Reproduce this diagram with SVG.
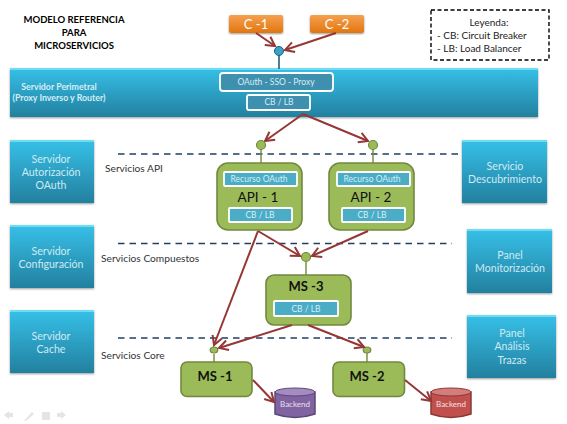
<svg xmlns="http://www.w3.org/2000/svg" width="567" height="424" viewBox="0 0 567 424">
<defs>
<linearGradient id="b" x1="0" y1="0" x2="0" y2="1"><stop offset="0" stop-color="#36c0e8"/><stop offset="1" stop-color="#23809f"/></linearGradient>
<linearGradient id="o" x1="0" y1="0" x2="0" y2="1"><stop offset="0" stop-color="#f5a04f"/><stop offset="1" stop-color="#e2760f"/></linearGradient>
<marker id="a" markerWidth="13" markerHeight="13" refX="10" refY="6" orient="auto" markerUnits="userSpaceOnUse"><path d="M1 1L10 6L1 11" fill="none" stroke="#953735" stroke-width="2"/></marker>
<filter id="s" x="-5%" y="-5%" width="110%" height="115%"><feDropShadow dx="0" dy="1" stdDeviation="0.8" flood-color="#000" flood-opacity="0.4"/></filter>
</defs>
<style>
text{font-family:Lato,"Liberation Sans",sans-serif;text-anchor:middle}
.box{fill:url(#b);filter:url(#s)}
.top{fill:#6fdcf2}
.t{fill:#cfeaf3;font-size:10.6px}
.h{fill:#000;font-size:9.5px;font-weight:700}
.l{fill:#333;font-size:10.2px;text-anchor:start}
.g{fill:#9bbb59;stroke:#71893f;stroke-width:1.6}
.i{fill:#4aacc5;stroke:#fff;stroke-width:1.8}
.i2{fill:#3f8fae;stroke:#fff;stroke-width:1.8}
.it{fill:#d5eef6;font-size:8.5px}
.n{font-size:13.5px;fill:#111}
.m{font-size:13px;font-weight:700;fill:#111}
.c{stroke:#953735;stroke-width:2;fill:none;marker-end:url(#a)}
.d{stroke:#1f3f63;stroke-width:1.4;stroke-dasharray:6.5 5;fill:none}
.dot{fill:#9bbb59;stroke:#71893f;stroke-width:1.2}
.st{stroke:#71893f;stroke-width:1.4;fill:none}
.leg{font-size:10px;fill:#222}
.nav{fill:#e4e4e4}
</style>
<rect width="567" height="424" fill="#fff"/>
<g id="title"><text class="h" x="74" y="23">MODELO REFERENCIA</text><text class="h" x="74" y="36">PARA</text><text class="h" x="74" y="49">MICROSERVICIOS</text></g>
<g id="legend"><rect x="431" y="10" width="118" height="50" fill="#fff" stroke="#000" stroke-width="1.4" stroke-dasharray="4 2.5"/><text class="leg" x="489" y="26">Leyenda:</text><text class="leg" x="437" y="39" style="text-anchor:start">- CB: Circuit Breaker</text><text class="leg" x="437" y="52" style="text-anchor:start">- LB: Load Balancer</text></g>
<g id="bands"><path class="d" d="M118 154H460M118 243.500H452M118 338H452"/></g>
<g id="perimetral"><rect class="box" x="10" y="68" width="528" height="49"/><rect class="top" x="10" y="68" width="528" height="2"/><text x="59" y="90" font-size="8.800" font-weight="700" fill="#d5eef6">Servidor Perimetral</text><text x="59" y="101" font-size="8.800" font-weight="700" fill="#d5eef6">(Proxy Inverso y Router)</text><rect class="i2" x="220" y="73" width="113" height="18" rx="3"/><text class="it" x="276" y="85">OAuth - SSO - Proxy</text><rect class="i2" x="247" y="95" width="63" height="15" rx="2"/><text class="it" x="279" y="105">CB / LB</text></g>
<g id="c1"><rect x="229" y="15" width="54" height="18" rx="2" fill="url(#o)" filter="url(#s)"/><text x="256" y="29" font-size="13" fill="#fff">C -1</text></g>
<g id="c2"><rect x="310" y="15" width="54" height="18" rx="2" fill="url(#o)" filter="url(#s)"/><text x="337" y="29" font-size="13" fill="#fff">C -2</text></g>
<g id="s1"><rect class="box" x="10" y="140" width="84" height="63"/><rect class="top" x="10" y="140" width="84" height="2"/><text class="t" x="51" y="163">Servidor</text><text class="t" x="51" y="176">Autorización</text><text class="t" x="51" y="189">OAuth</text></g>
<g id="s2"><rect class="box" x="10" y="225" width="84" height="63"/><rect class="top" x="10" y="225" width="84" height="2"/><text class="t" x="51" y="255">Servidor</text><text class="t" x="51" y="268">Configuración</text></g>
<g id="s3"><rect class="box" x="10" y="310" width="84" height="63"/><rect class="top" x="10" y="310" width="84" height="2"/><text class="t" x="51" y="340">Servidor</text><text class="t" x="51" y="353">Cache</text></g>
<g id="s4"><rect class="box" x="462" y="140" width="85" height="63"/><rect class="top" x="462" y="140" width="85" height="2"/><text class="t" x="505" y="170">Servicio</text><text class="t" x="505" y="183">Descubrimiento</text></g>
<g id="s5"><rect class="box" x="467" y="229" width="85" height="64"/><rect class="top" x="467" y="229" width="85" height="2"/><text class="t" x="510" y="259">Panel</text><text class="t" x="510" y="272">Monitorización</text></g>
<g id="s6"><rect class="box" x="467" y="315" width="89" height="63"/><rect class="top" x="467" y="315" width="89" height="2"/><text class="t" x="512" y="337">Panel</text><text class="t" x="512" y="350">Análisis</text><text class="t" x="512" y="364">Trazas</text></g>
<g id="labels"><text class="l" x="105" y="172">Servicios API</text><text class="l" x="101" y="262">Servicios Compuestos</text><text class="l" x="101" y="359">Servicios Core</text></g>
<g id="api1"><rect class="g" x="217" y="163" width="85" height="67" rx="11"/><rect class="i" x="224" y="172" width="73" height="14" rx="1"/><text class="it" x="259" y="182">Recurso OAuth</text><text class="n" x="258" y="202">API - 1</text><rect class="i" x="229" y="208" width="63" height="14" rx="1"/><text class="it" x="260" y="218">CB / LB</text></g>
<g id="api2"><rect class="g" x="329" y="163" width="85" height="67" rx="11"/><rect class="i" x="337" y="172" width="73" height="14" rx="1"/><text class="it" x="372" y="182">Recurso OAuth</text><text class="n" x="371" y="202">API - 2</text><rect class="i" x="342" y="208" width="63" height="14" rx="1"/><text class="it" x="372" y="218">CB / LB</text></g>
<g id="ms3"><rect class="g" x="266" y="275" width="85" height="50" rx="8"/><text class="m" x="306" y="291">MS -3</text><rect class="i" x="274" y="301" width="64" height="15" rx="1"/><text class="it" x="306" y="311.500">CB / LB</text></g>
<g id="ms1"><rect class="g" x="181" y="362" width="71" height="34.500" rx="6"/><text class="m" x="215" y="381">MS -1</text></g>
<g id="ms2"><rect class="g" x="333" y="362" width="71.500" height="34.500" rx="6"/><text class="m" x="367" y="381">MS -2</text></g>
<g id="db1"><path d="M275 392V414Q295 421 315 414V392Z" fill="#8064a2" stroke="#5c4776" stroke-width="1.500"/><ellipse cx="295" cy="392" rx="20" ry="4" fill="#a48cc0" stroke="#5c4776"/><text x="295" y="407" font-size="8" fill="#e8e0f0">Backend</text></g>
<g id="db2"><path d="M431 392V414Q451 421 471 414V392Z" fill="#c0504d" stroke="#8c3836" stroke-width="1.500"/><ellipse cx="451" cy="392" rx="20" ry="4" fill="#d47e7c" stroke="#8c3836"/><text x="451" y="407" font-size="8" fill="#f5e0e0">Backend</text></g>
<g id="nav"><path class="nav" d="M4 415L9 411V413H13V417H9V419ZM24 421L32 412L34 414L26 421ZM42 412H50V420H42ZM66 415L61 411V413H57V417H61V419Z"/></g>
<g id="connectors">
<path d="M279 55V69" stroke="#1f5f7a" stroke-width="1.600"/><circle cx="279" cy="51" r="4.500" fill="#3aa3c4" stroke="#1f5f7a"/>
<path class="c" d="M256 33L275 46"/><path class="c" d="M336 33L285 50"/>
<path class="c" d="M303 114L265 141"/><path class="c" d="M303 114L368 141"/>
<path d="M261 149V163M373 149V163M306 262V275M214 354V362M367 353V362" class="st"/>
<circle class="dot" cx="261" cy="145" r="4.500"/><circle class="dot" cx="373" cy="145" r="4.500"/><circle class="dot" cx="306" cy="257" r="4.500"/><ellipse class="dot" cx="214" cy="350" rx="3.800" ry="3"/><ellipse class="dot" cx="367" cy="350" rx="3.800" ry="3"/>
<path class="c" d="M258 231L300 256"/><path class="c" d="M368 231L312 256"/><path class="c" d="M258 231L214 345"/><path class="c" d="M292 325L219 348"/><path class="c" d="M308 325L364 347"/><path class="c" d="M253 380L274 402"/><path class="c" d="M405 380L431 401"/>
</g>
</svg>
